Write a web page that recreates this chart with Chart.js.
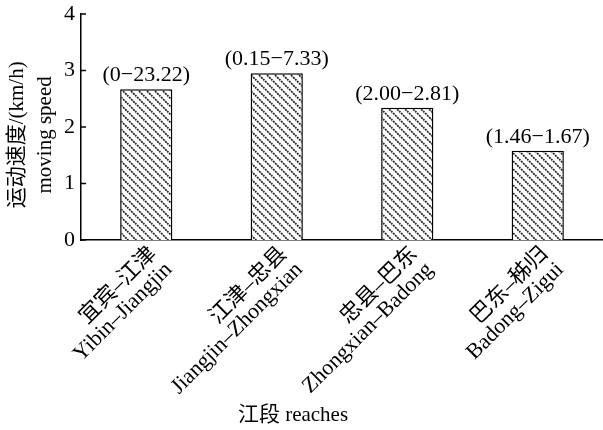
<!DOCTYPE html>
<html>
<head>
<meta charset="utf-8">
<script src="https://cdn.jsdelivr.net/npm/chart.js@4/dist/chart.umd.min.js"></script>
<style>
  html, body { margin: 0; padding: 0; background: #fff; }
  #wrap { width: 603px; height: 430px; }
</style>
</head>
<body>
<div id="wrap"><canvas id="c" width="603" height="430"></canvas></div>
<script>
// River reaches (Chinese / English names)
const reachesCN = ['宜宾–江津', '江津–忠县', '忠县–巴东', '巴东–秭归'];
const reachesEN = ['Yibin–Jiangjin', 'Jiangjin–Zhongxian', 'Zhongxian–Badong', 'Badong–Zigui'];
// Mean moving speed (km/h) per reach
const speeds = [2.67, 2.95, 2.34, 1.58];
// Observed speed range shown above each bar
const ranges = ['(0−23.22)', '(0.15−7.33)', '(2.00−2.81)', '(1.46−1.67)'];
// Y axis tick values
const yTicks = [0, 1, 2, 3, 4];

const SERIF = "'Liberation Serif', 'Noto Sans CJK SC', serif";

// Diagonal hatch fill for the bars
function makeHatch() {
  const t = document.createElement('canvas');
  const s = 8;
  t.width = s; t.height = s;
  const g = t.getContext('2d');
  g.fillStyle = '#fff';
  g.fillRect(0, 0, s, s);
  g.strokeStyle = '#1a1a1a';
  g.lineWidth = 1.7;
  g.setLineDash([2.0, 0.9]);
  g.beginPath();
  for (const off of [-s, 0, s]) {
    g.moveTo(off - 1, -1);
    g.lineTo(off + s + 1, s + 1);
  }
  g.stroke();
  return g.createPattern(t, 'repeat');
}

const labels = reachesCN.map((cn, i) => [cn, reachesEN[i]]);

// Inward tick marks on the y axis, range labels above bars, x axis title
const extras = {
  id: 'extras',
  afterDraw(chart) {
    const ctx = chart.ctx;
    const y = chart.scales.y;
    ctx.save();
    ctx.strokeStyle = '#000';
    ctx.lineWidth = 1.5;
    yTicks.forEach(v => {
      const py = y.getPixelForValue(v);
      ctx.beginPath();
      ctx.moveTo(y.right, py);
      ctx.lineTo(y.right + 5, py);
      ctx.stroke();
    });
    const meta = chart.getDatasetMeta(0);
    ctx.fillStyle = '#000';
    ctx.font = '22px ' + SERIF;
    ctx.textAlign = 'center';
    ctx.textBaseline = 'bottom';
    meta.data.forEach((bar, i) => {
      ctx.fillText(ranges[i], bar.x, bar.y - 3);
    });
    ctx.font = '21px ' + SERIF;
    ctx.textBaseline = 'middle';
    ctx.fillText('江段 reaches', 293, 415);
    ctx.restore();
  }
};

new Chart(document.getElementById('c'), {
  type: 'bar',
  data: {
    labels: labels,
    datasets: [{
      data: speeds,
      backgroundColor: makeHatch(),
      borderColor: '#000',
      borderWidth: 1.5,
      borderSkipped: 'bottom',
      categoryPercentage: 1.0,
      barPercentage: 0.4
    }]
  },
  options: {
    responsive: false,
    animation: false,
    devicePixelRatio: 1,
    layout: { padding: { top: 14, right: 0, left: 0, bottom: 0 } },
    plugins: { legend: { display: false }, tooltip: { enabled: false } },
    scales: {
      x: {
        grid: { display: false, drawTicks: false },
        border: { display: true, color: '#000', width: 1.5 },
        ticks: {
          color: '#000',
          font: { family: SERIF, size: 22, lineHeight: 1.0 },
          maxRotation: 45, minRotation: 45,
          labelOffset: 7,
          padding: 3
        },
        afterFit(scale) { scale.height = 190; }
      },
      y: {
        min: 0, max: 4,
        grid: { display: false, drawTicks: false },
        border: { display: true, color: '#000', width: 1.5 },
        afterBuildTicks(scale) { scale.ticks = yTicks.map(v => ({ value: v })); },
        ticks: {
          color: '#000',
          font: { family: SERIF, size: 22 },
          padding: 6
        },
        title: {
          display: true,
          // trailing spaces nudge the rotated title toward the lower ticks
          text: ['运动速度/(km/h)   ', 'moving speed   '],
          color: '#000',
          font: { family: SERIF, size: 21, lineHeight: 1.35 },
          padding: { top: 3, bottom: 0 }
        },
        afterFit(scale) {
          scale.width = 81;
          scale.paddingTop = 0;
          scale.paddingBottom = 0;
        }
      }
    }
  },
  plugins: [extras]
});
</script>
</body>
</html>
